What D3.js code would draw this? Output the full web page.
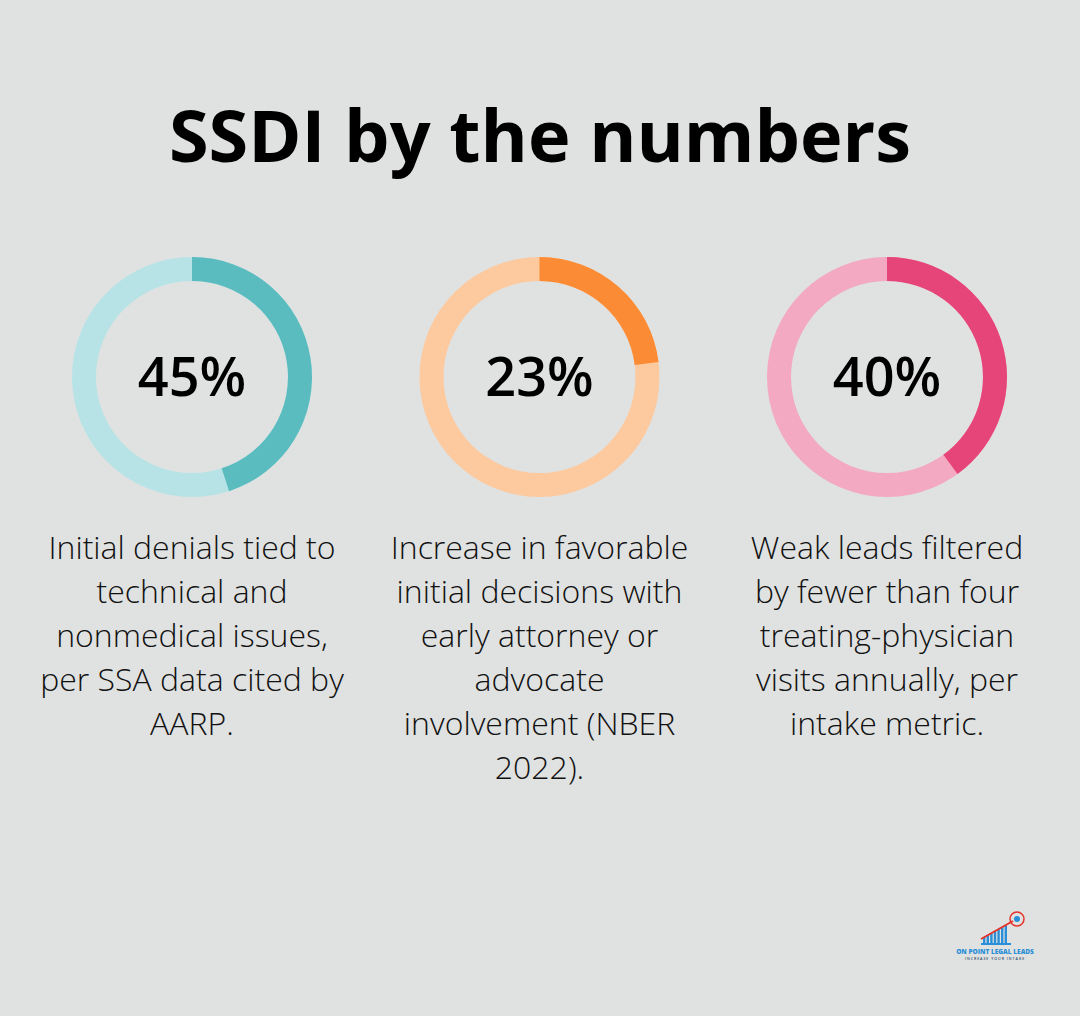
<!DOCTYPE html>
<html>
<head>
<meta charset="utf-8">
<script src="https://cdn.jsdelivr.net/npm/d3@7"></script>
<style>
  body { margin: 0; background: #e0e2e1; }
  svg { display: block; }
</style>
</head>
<body>
<svg width="1080" height="1016"></svg>
<script>
// values
let values = [45, 23, 40];
let labels = ["45%", "23%", "40%"];
let darkColors = ["#5bbcc0", "#fb8c35", "#e6457a"];
let lightColors = ["#b7e3e6", "#fdc99f", "#f2a9c1"];
let captions = [
  ["Initial denials tied to", "technical and", "nonmedical issues,", "per SSA data cited by", "AARP."],
  ["Increase in favorable", "initial decisions with", "early attorney or", "advocate", "involvement (NBER", "2022)."],
  ["Weak leads filtered", "by fewer than four", "treating-physician", "visits annually, per", "intake metric."]
];

let svg = d3.select("svg"),
    width = +svg.attr("width"),
    height = +svg.attr("height");

svg.append("rect").attr("width", width).attr("height", height).attr("fill", "#e0e2e1");

svg.append("text")
    .attr("x", width / 2)
    .attr("y", 162)
    .attr("text-anchor", "middle")
    .style("font-family", "'Open Sans', sans-serif")
    .style("font-weight", 700)
    .style("font-size", "72px")
    .style("fill", "#000")
    .text("SSDI by the numbers");

// column centres
let x = d3.scalePoint().domain(d3.range(values.length)).range([192, 887]);
let angle = d3.scaleLinear().domain([0, 100]).range([0, 2 * Math.PI]);
let arc = d3.arc().innerRadius(96).outerRadius(120);

let col = svg.selectAll(".col")
    .data(values)
    .enter().append("g")
      .attr("class", "col")
      .attr("transform", function(d, i) { return "translate(" + x(i) + ",377)"; });

col.append("path")
    .attr("d", arc({startAngle: 0, endAngle: 2 * Math.PI}))
    .attr("fill", function(d, i) { return lightColors[i]; });

col.append("path")
    .attr("d", function(d) { return arc({startAngle: 0, endAngle: angle(d)}); })
    .attr("fill", function(d, i) { return darkColors[i]; });

col.append("text")
    .attr("y", 19)
    .attr("text-anchor", "middle")
    .style("font-family", "'Open Sans', sans-serif")
    .style("font-weight", 600)
    .style("font-size", "54px")
    .style("fill", "#000")
    .text(function(d, i) { return labels[i]; });

col.each(function(d, i) {
  let t = d3.select(this).append("text")
      .attr("text-anchor", "middle")
      .style("font-family", "'Open Sans', sans-serif")
      .style("font-weight", 300)
      .style("font-size", "32px")
      .style("fill", "#111");
  captions[i].forEach(function(line, k) {
    t.append("tspan").attr("x", 0).attr("y", 182 + k * 44).text(line);
  });
});

// small logo, bottom right
let logo = svg.append("g").attr("transform", "translate(995,935)");
let bars = [6, 8, 10, 12, 14, 16, 18];
logo.selectAll("rect.bar")
    .data(bars)
    .enter().append("rect")
      .attr("class", "bar")
      .attr("x", function(d, i) { return -12 + i * 3.6; })
      .attr("y", function(d) { return 8 - d; })
      .attr("width", 2.4)
      .attr("height", function(d) { return d; })
      .attr("fill", "#2a8fd6");
logo.append("rect").attr("x", -14).attr("y", 8).attr("width", 30).attr("height", 2).attr("fill", "#2a8fd6");
logo.append("line").attr("x1", -14).attr("y1", 4).attr("x2", 18).attr("y2", -14)
    .attr("stroke", "#e5332a").attr("stroke-width", 2);
logo.append("circle").attr("cx", 22).attr("cy", -16).attr("r", 7)
    .attr("fill", "none").attr("stroke", "#e5332a").attr("stroke-width", 1.5);
logo.append("circle").attr("cx", 22).attr("cy", -16).attr("r", 3).attr("fill", "#2a8fd6");
logo.append("text").attr("x", 0).attr("y", 19).attr("text-anchor", "middle")
    .style("font-family", "'Open Sans', sans-serif").style("font-weight", 800)
    .style("font-size", "6.5px").style("fill", "#2a8fd6").text("ON POINT LEGAL LEADS");
logo.append("text").attr("x", 0).attr("y", 25).attr("text-anchor", "middle")
    .style("font-family", "'Open Sans', sans-serif").style("font-weight", 600)
    .style("font-size", "3.5px").style("letter-spacing", "1px").style("fill", "#2a4a6a").text("INCREASE YOUR INTAKE");
</script>
</body>
</html>
